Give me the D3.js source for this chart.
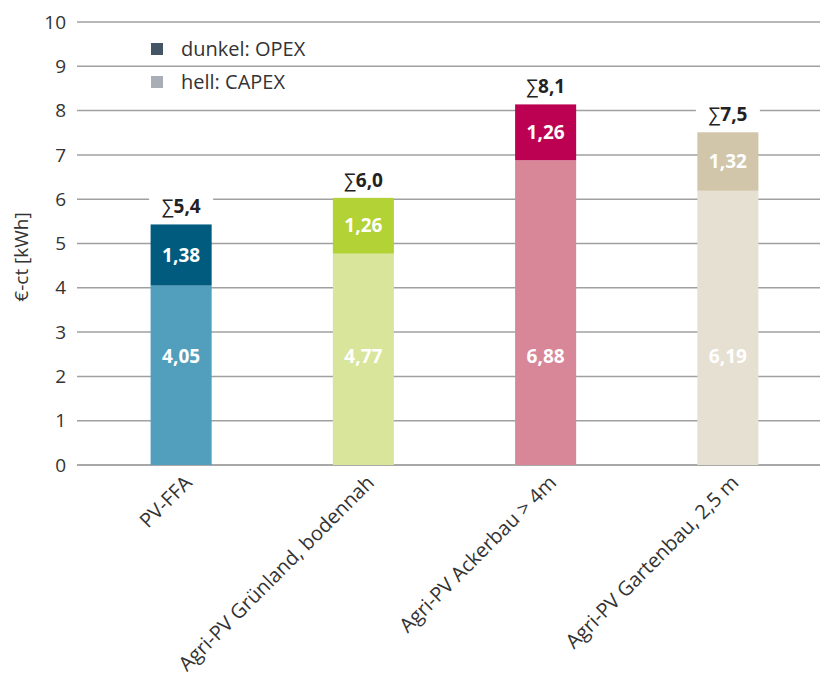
<!DOCTYPE html>
<html>
<head>
<meta charset="utf-8">
<script src="https://cdn.jsdelivr.net/npm/d3@7"></script>
<style>
  body { margin: 0; background: #fff; }
  text { font-family: "Open Sans", "Noto Sans", sans-serif; }
</style>
</head>
<body>
<svg id="chart" width="823" height="677"></svg>
<script>
"use strict";

// data
var categories = ["PV-FFA", "Agri-PV Grünland, bodennah", "Agri-PV Ackerbau > 4m", "Agri-PV Gartenbau, 2,5 m"];
var capex = [4.05, 4.77, 6.88, 6.19];
var opex = [1.38, 1.26, 1.26, 1.32];
var sums = ["5,4", "6,0", "8,1", "7,5"];
var yTicks = [0, 1, 2, 3, 4, 5, 6, 7, 8, 9, 10];
var legendLabels = ["dunkel: OPEX", "hell: CAPEX"];

var lightColors = ["#519fbc", "#d8e59b", "#d88799", "#e6e0d3"];
var darkColors = ["#005b7f", "#b2d235", "#bd0152", "#d1c6aa"];

var svg = d3.select("#chart");

var y = d3.scaleLinear().domain([0, 10]).range([465, 22]);
var x = d3.scaleBand().domain(categories).range([90, 819])
  .paddingInner(0.665).paddingOuter(0.3325);

// grid lines
svg.selectAll("line.grid")
  .data(yTicks)
  .enter().append("line")
  .attr("class", "grid")
  .attr("x1", 77)
  .attr("x2", 820)
  .attr("y1", function (d) { return y(d); })
  .attr("y2", function (d) { return y(d); })
  .style("stroke", function (d) { return d === 0 ? "#a8a8a8" : "#a0a0a0"; })
  .style("stroke-width", function (d) { return d === 0 ? 2 : 1.5; });

// y tick labels
svg.selectAll("text.ytick")
  .data(yTicks)
  .enter().append("text")
  .attr("class", "ytick")
  .attr("x", 66)
  .attr("y", function (d) { return y(d); })
  .attr("dy", "0.35em")
  .attr("text-anchor", "end")
  .style("font-size", "19px")
  .style("fill", "#333")
  .text(function (d) { return d; });

svg.append("text")
  .attr("transform", "translate(28,257) rotate(-90)")
  .attr("text-anchor", "middle")
  .style("font-size", "19px")
  .style("fill", "#333")
  .text("€-ct [kWh]");

// bars
var rows = categories.map(function (c, i) {
  return { cat: c, capex: capex[i], opex: opex[i], sum: sums[i], i: i };
});

var bars = svg.selectAll("g.bar").data(rows).enter().append("g").attr("class", "bar");

bars.append("rect")
  .attr("x", function (d) { return x(d.cat); })
  .attr("width", x.bandwidth())
  .attr("y", function (d) { return y(d.capex); })
  .attr("height", function (d) { return y(0) - y(d.capex); })
  .style("fill", function (d) { return lightColors[d.i]; });

bars.append("rect")
  .attr("x", function (d) { return x(d.cat); })
  .attr("width", x.bandwidth())
  .attr("y", function (d) { return y(d.capex + d.opex); })
  .attr("height", function (d) { return y(d.capex) - y(d.capex + d.opex); })
  .style("fill", function (d) { return darkColors[d.i]; });

function fmt(v) { return v.toFixed(2).replace(".", ","); }

bars.append("text")
  .attr("x", function (d) { return x(d.cat) + x.bandwidth() / 2; })
  .attr("y", y(2.45))
  .attr("dy", "0.35em")
  .attr("text-anchor", "middle")
  .style("font-size", "19px")
  .style("font-weight", 700)
  .style("fill", "#fff")
  .text(function (d) { return fmt(d.capex); });

bars.append("text")
  .attr("x", function (d) { return x(d.cat) + x.bandwidth() / 2; })
  .attr("y", function (d) { return y(d.capex + d.opex / 2); })
  .attr("dy", "0.35em")
  .attr("text-anchor", "middle")
  .style("font-size", "19px")
  .style("font-weight", 700)
  .style("fill", "#fff")
  .text(function (d) { return fmt(d.opex); });

// sum labels with white box behind to cut the gridline
bars.append("rect")
  .attr("x", function (d) { return x(d.cat) + x.bandwidth() / 2 - 32; })
  .attr("y", function (d) { return y(d.capex + d.opex) - 32; })
  .attr("width", 64)
  .attr("height", 28)
  .style("fill", "#fff");

var sumText = bars.append("text")
  .attr("x", function (d) { return x(d.cat) + x.bandwidth() / 2; })
  .attr("y", function (d) { return y(d.capex + d.opex) - 18; })
  .attr("dy", "0.35em")
  .attr("text-anchor", "middle")
  .style("font-size", "19px")
  .style("fill", "#222");
sumText.append("tspan").style("font-weight", 400).text("∑");
sumText.append("tspan").style("font-weight", 700).text(function (d) { return d.sum; });

// x labels, rotated
svg.selectAll("text.xlab")
  .data(categories)
  .enter().append("text")
  .attr("class", "xlab")
  .attr("transform", function (d) {
    return "translate(" + (x(d) + x.bandwidth() / 2 + 12) + ",484) rotate(-45)";
  })
  .attr("text-anchor", "end")
  .style("font-size", "20px")
  .style("fill", "#333")
  .text(function (d) { return d; });

// legend
var legendColors = ["#445566", "#a8adb6"];
var legend = svg.selectAll("g.legend").data(legendLabels).enter().append("g")
  .attr("class", "legend")
  .attr("transform", function (d, i) { return "translate(151," + (43 + i * 33) + ")"; });

legend.append("rect")
  .attr("width", 12)
  .attr("height", 12)
  .style("fill", function (d, i) { return legendColors[i]; });

legend.append("text")
  .attr("x", 30)
  .attr("y", 6)
  .attr("dy", "0.35em")
  .style("font-size", "20px")
  .style("fill", "#333")
  .text(function (d) { return d; });
</script>
</body>
</html>
